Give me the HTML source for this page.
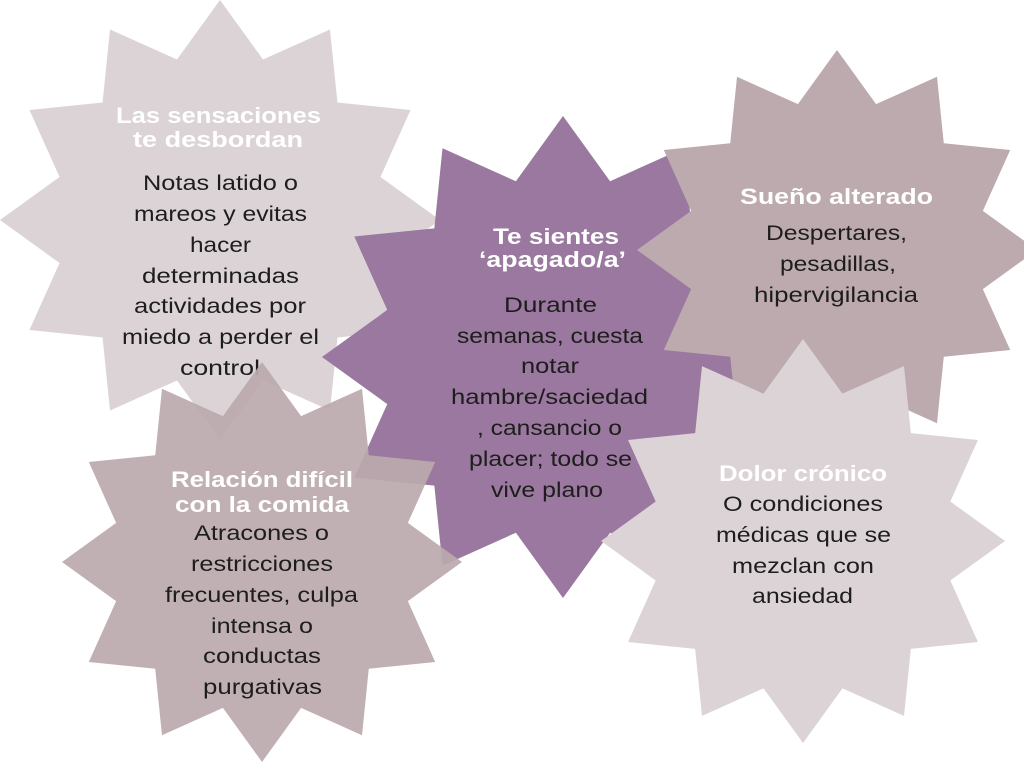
<!DOCTYPE html>
<html>
<head>
<meta charset="utf-8">
<style>
html,body{margin:0;padding:0;background:#fff;}
body{width:1024px;height:768px;overflow:hidden;}
svg{display:block;}
text{font-family:"Liberation Sans", sans-serif;}
.t{font-weight:bold;font-size:22px;fill:#ffffff;}
.b{font-size:21px;fill:#1d1d1b;}
</style>
</head>
<body>
<svg width="1024" height="768" viewBox="0 0 1024 768" xmlns="http://www.w3.org/2000/svg">
<!-- Star 1: Las sensaciones -->
<polygon transform="translate(220,220) scale(220)" fill="#dbd3d6" points="0,-1 0.1954,-0.7293 0.5,-0.866 0.5339,-0.5339 0.866,-0.5 0.7293,-0.1954 1,0 0.7293,0.1954 0.866,0.5 0.5339,0.5339 0.5,0.866 0.1954,0.7293 0,1 -0.1954,0.7293 -0.5,0.866 -0.5339,0.5339 -0.866,0.5 -0.7293,0.1954 -1,0 -0.7293,-0.1954 -0.866,-0.5 -0.5339,-0.5339 -0.5,-0.866 -0.1954,-0.7293"/>
<text class="t" x="116" y="123" textLength="205" lengthAdjust="spacingAndGlyphs">Las sensaciones</text>
<text class="t" x="133" y="147" textLength="170" lengthAdjust="spacingAndGlyphs">te desbordan</text>
<text class="b" x="143" y="190" textLength="155" lengthAdjust="spacingAndGlyphs">Notas latido o</text>
<text class="b" x="134" y="221" textLength="173" lengthAdjust="spacingAndGlyphs">mareos y evitas</text>
<text class="b" x="190" y="252" textLength="61" lengthAdjust="spacingAndGlyphs">hacer</text>
<text class="b" x="142" y="283" textLength="157" lengthAdjust="spacingAndGlyphs">determinadas</text>
<text class="b" x="134" y="313" textLength="172" lengthAdjust="spacingAndGlyphs">actividades por</text>
<text class="b" x="122" y="344" textLength="197" lengthAdjust="spacingAndGlyphs">miedo a perder el</text>
<text class="b" x="180" y="375" textLength="80" lengthAdjust="spacingAndGlyphs">control</text>

<!-- Star 2: Te sientes apagado -->
<polygon transform="translate(563,357) scale(241)" fill="#9a78a0" points="0,-1 0.1954,-0.7293 0.5,-0.866 0.5339,-0.5339 0.866,-0.5 0.7293,-0.1954 1,0 0.7293,0.1954 0.866,0.5 0.5339,0.5339 0.5,0.866 0.1954,0.7293 0,1 -0.1954,0.7293 -0.5,0.866 -0.5339,0.5339 -0.866,0.5 -0.7293,0.1954 -1,0 -0.7293,-0.1954 -0.866,-0.5 -0.5339,-0.5339 -0.5,-0.866 -0.1954,-0.7293"/>
<text class="t" x="493" y="244" textLength="126" lengthAdjust="spacingAndGlyphs">Te sientes</text>
<text class="t" x="479" y="267" textLength="147" lengthAdjust="spacingAndGlyphs">‘apagado/a’</text>
<text class="b" x="504" y="312" textLength="93" lengthAdjust="spacingAndGlyphs">Durante</text>
<text class="b" x="457" y="343" textLength="186" lengthAdjust="spacingAndGlyphs">semanas, cuesta</text>
<text class="b" x="521" y="373" textLength="58" lengthAdjust="spacingAndGlyphs">notar</text>
<text class="b" x="451" y="404" textLength="197" lengthAdjust="spacingAndGlyphs">hambre/saciedad</text>
<text class="b" x="477" y="435" textLength="145" lengthAdjust="spacingAndGlyphs">, cansancio o</text>
<text class="b" x="469" y="466" textLength="163" lengthAdjust="spacingAndGlyphs">placer; todo se</text>
<text class="b" x="491" y="497" textLength="112" lengthAdjust="spacingAndGlyphs">vive plano</text>

<!-- Star 3: Sueño alterado -->
<polygon transform="translate(837,250) scale(200)" fill="#bcaaae" points="0,-1 0.1954,-0.7293 0.5,-0.866 0.5339,-0.5339 0.866,-0.5 0.7293,-0.1954 1,0 0.7293,0.1954 0.866,0.5 0.5339,0.5339 0.5,0.866 0.1954,0.7293 0,1 -0.1954,0.7293 -0.5,0.866 -0.5339,0.5339 -0.866,0.5 -0.7293,0.1954 -1,0 -0.7293,-0.1954 -0.866,-0.5 -0.5339,-0.5339 -0.5,-0.866 -0.1954,-0.7293"/>
<text class="t" x="740" y="204" textLength="193" lengthAdjust="spacingAndGlyphs">Sueño alterado</text>
<text class="b" x="766" y="240" textLength="141" lengthAdjust="spacingAndGlyphs">Despertares,</text>
<text class="b" x="780" y="271" textLength="116" lengthAdjust="spacingAndGlyphs">pesadillas,</text>
<text class="b" x="754" y="302" textLength="164" lengthAdjust="spacingAndGlyphs">hipervigilancia</text>

<!-- Star 4: Relación difícil -->
<polygon transform="translate(262,562) scale(200)" fill="#bbaaad" fill-opacity="0.93" points="0,-1 0.1954,-0.7293 0.5,-0.866 0.5339,-0.5339 0.866,-0.5 0.7293,-0.1954 1,0 0.7293,0.1954 0.866,0.5 0.5339,0.5339 0.5,0.866 0.1954,0.7293 0,1 -0.1954,0.7293 -0.5,0.866 -0.5339,0.5339 -0.866,0.5 -0.7293,0.1954 -1,0 -0.7293,-0.1954 -0.866,-0.5 -0.5339,-0.5339 -0.5,-0.866 -0.1954,-0.7293"/>
<text class="t" x="171" y="487" textLength="182" lengthAdjust="spacingAndGlyphs">Relación difícil</text>
<text class="t" x="175" y="512" textLength="174" lengthAdjust="spacingAndGlyphs">con la comida</text>
<text class="b" x="194" y="540" textLength="135" lengthAdjust="spacingAndGlyphs">Atracones o</text>
<text class="b" x="191" y="571" textLength="142" lengthAdjust="spacingAndGlyphs">restricciones</text>
<text class="b" x="165" y="602" textLength="193" lengthAdjust="spacingAndGlyphs">frecuentes, culpa</text>
<text class="b" x="211" y="633" textLength="102" lengthAdjust="spacingAndGlyphs">intensa o</text>
<text class="b" x="203" y="663" textLength="118" lengthAdjust="spacingAndGlyphs">conductas</text>
<text class="b" x="203" y="694" textLength="119" lengthAdjust="spacingAndGlyphs">purgativas</text>

<!-- Star 5: Dolor crónico -->
<polygon transform="translate(803,541) scale(202)" fill="#dbd3d6" points="0,-1 0.1954,-0.7293 0.5,-0.866 0.5339,-0.5339 0.866,-0.5 0.7293,-0.1954 1,0 0.7293,0.1954 0.866,0.5 0.5339,0.5339 0.5,0.866 0.1954,0.7293 0,1 -0.1954,0.7293 -0.5,0.866 -0.5339,0.5339 -0.866,0.5 -0.7293,0.1954 -1,0 -0.7293,-0.1954 -0.866,-0.5 -0.5339,-0.5339 -0.5,-0.866 -0.1954,-0.7293"/>
<text class="t" x="719" y="481" textLength="168" lengthAdjust="spacingAndGlyphs">Dolor crónico</text>
<text class="b" x="723" y="511" textLength="160" lengthAdjust="spacingAndGlyphs">O condiciones</text>
<text class="b" x="716" y="542" textLength="175" lengthAdjust="spacingAndGlyphs">médicas que se</text>
<text class="b" x="732" y="573" textLength="142" lengthAdjust="spacingAndGlyphs">mezclan con</text>
<text class="b" x="752" y="603" textLength="101" lengthAdjust="spacingAndGlyphs">ansiedad</text>
</svg>
</body>
</html>
